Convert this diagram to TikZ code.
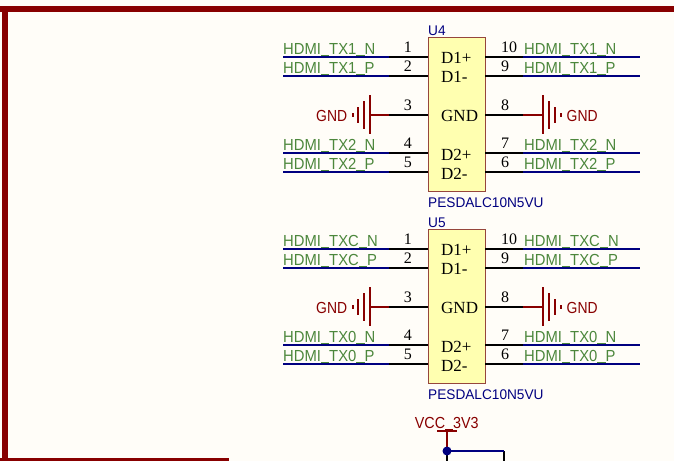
\documentclass[tikz,border=0pt]{standalone}
\usepackage{fontspec}
\setmainfont{Liberation Sans}
\newfontfamily\pinfont{Liberation Serif}
\usetikzlibrary{positioning}
\definecolor{PaperColor}{RGB}{255,253,248}
\definecolor{BusColor}{RGB}{0,0,128}
\definecolor{PowerColor}{RGB}{136,0,0}
\definecolor{NetColor}{RGB}{76,135,60}
\definecolor{BodyColor}{RGB}{255,255,176}
\definecolor{EdgeColor}{RGB}{150,70,60}
\newcommand{\lowbar}{\rule[-1.5pt]{0.556em}{1pt}}
\tikzstyle{netwire} = [line width=1.8pt, BusColor]
\tikzstyle{pinwire} = [line width=1.8pt, black]
\tikzstyle{powerwire} = [line width=2pt, PowerColor]
\tikzset{
  frame/.style={line width=6pt, PowerColor},
  chipbody/.style={rectangle, draw=EdgeColor, line width=1pt, fill=BodyColor, minimum width=57pt, minimum height=154pt, inner sep=0pt},
  pinnum/.style={font=\pinfont\fontsize{16}{17}\selectfont, inner sep=0pt},
  pinname/.style={font=\pinfont\fontsize{17}{18}\selectfont, inner sep=0pt, anchor=base west},
  netlabel/.style={font=\fontsize{16}{18}\selectfont, text=NetColor, inner sep=0pt, anchor=base west, xscale=0.925, transform shape},
  powerlabel/.style={font=\fontsize{16}{18}\selectfont, text=PowerColor, inner sep=0pt, anchor=base west, xscale=0.87, transform shape},
  chiplabel/.style={font=\fontsize{14}{16}\selectfont, text=BusColor, inner sep=0pt, anchor=base west, xscale=0.975, transform shape}
}
% one signal pin on the left: chip, number, y, net
\newcommand{\leftpin}[4]{
  \coordinate (#1n#2) at (283,#3);
  \coordinate (#1w#2) at (389,#3);
  \coordinate (#1p#2) at (428,#3);
  \draw[netwire] (#1n#2) -- (#1w#2);
  \draw[pinwire] (#1w#2) -- (#1p#2);
  \node[netlabel] (#1l#2) at (283,#3-3) {#4};
  \node[pinnum, anchor=base east] (#1d#2) at (412,#3-4.5) {#2};
}
% one signal pin on the right: chip, number, y, net
\newcommand{\rightpin}[4]{
  \coordinate (#1n#2) at (640,#3);
  \coordinate (#1w#2) at (523,#3);
  \coordinate (#1p#2) at (485,#3);
  \draw[netwire] (#1w#2) -- (#1n#2);
  \draw[pinwire] (#1p#2) -- (#1w#2);
  \node[netlabel] (#1l#2) at (524,#3-3) {#4};
  \node[pinnum, anchor=base west] (#1d#2) at (501,#3-4.5) {#2};
}
% whole clamp chip: name, y offset, first pair, second pair
\newcommand{\clampchip}[4]{
  \begin{scope}[yshift=-#2pt]
    % Body
    \node[chipbody] (#1) at (456.5,114.7) {};
    \node[chiplabel] (#1ref) at (428,35) {#1};
    \node[chiplabel] (#1val) at (428,207.7) {PESDALC10N5VU};
    \node[pinname] (#1a) at (441,63) {D1+};
    \node[pinname] (#1b) at (441,82.5) {D1-};
    \node[pinname] (#1c) at (441,121) {GND};
    \node[pinname] (#1e) at (441,160) {D2+};
    \node[pinname] (#1f) at (441,179) {D2-};
    % Signal pins
    \leftpin{#1}{1}{57}{#3\lowbar N}
    \leftpin{#1}{2}{76}{#3\lowbar P}
    \leftpin{#1}{4}{153}{#4\lowbar N}
    \leftpin{#1}{5}{172}{#4\lowbar P}
    \rightpin{#1}{10}{57}{#3\lowbar N}
    \rightpin{#1}{9}{76}{#3\lowbar P}
    \rightpin{#1}{7}{153}{#4\lowbar N}
    \rightpin{#1}{6}{172}{#4\lowbar P}
    % Ground on pin 3
    \coordinate (#1p3) at (428,115);
    \coordinate (#1w3) at (389,115);
    \coordinate (#1g3) at (370,115);
    \draw[pinwire] (#1w3) -- (#1p3);
    \draw[powerwire] (#1g3) -- (#1w3);
    \draw[powerwire] (370,95) -- (370,134);
    \draw[powerwire] (364,101) -- (364,129);
    \draw[powerwire] (358,107) -- (358,123);
    \draw[powerwire] (352.5,113) -- (352.5,117);
    \node[pinnum, anchor=base east] (#1d3) at (412,110) {3};
    \node[powerlabel] (#1gl) at (316,121) {GND};
    % Ground on pin 8
    \coordinate (#1p8) at (485,115);
    \coordinate (#1w8) at (523,115);
    \coordinate (#1g8) at (543,115);
    \draw[pinwire] (#1p8) -- (#1w8);
    \draw[powerwire] (#1w8) -- (#1g8);
    \draw[powerwire] (543,95) -- (543,134);
    \draw[powerwire] (549,101) -- (549,129);
    \draw[powerwire] (555,107) -- (555,123);
    \draw[powerwire] (560.5,113) -- (560.5,117);
    \node[pinnum, anchor=base west] (#1d8) at (501,110) {8};
    \node[powerlabel] (#1gr) at (566.5,121) {GND};
  \end{scope}
}

\begin{document}
\begin{tikzpicture}[x=1pt,y=-1pt]
  \useasboundingbox[fill=PaperColor] (0,0) rectangle (674,461);

  % Sheet frame
  \draw[frame] (0,9) -- (674,9);
  \draw[frame] (5,6) -- (5,461);
  \draw[line width=3pt, PowerColor] (0,459.5) -- (229,459.5);

  % Clamp chips
  \clampchip{U4}{0}{HDMI\lowbar TX1}{HDMI\lowbar TX2}
  \clampchip{U5}{192}{HDMI\lowbar TXC}{HDMI\lowbar TX0}

  % Supply
  \draw[powerwire] (437,431) -- (457,431);
  \node[powerlabel, xscale=1.03] (vcc) at (414.7,428) {VCC\lowbar 3V3};
  \coordinate (vcctop) at (447,431);
  \coordinate (junction) at (447,451);
  \coordinate (corner) at (504,451);
  \coordinate (stemend) at (447,461);
  \coordinate (cornerend) at (504,461);
  \draw[powerwire] (vcctop) -- (junction);
  \draw[pinwire] (junction) -- (stemend);
  \draw[pinwire] (corner) -- (cornerend);
  \draw[netwire] (junction) -- (corner);
  \fill[BusColor] (junction) circle (4.5pt);
\end{tikzpicture}
\end{document}
